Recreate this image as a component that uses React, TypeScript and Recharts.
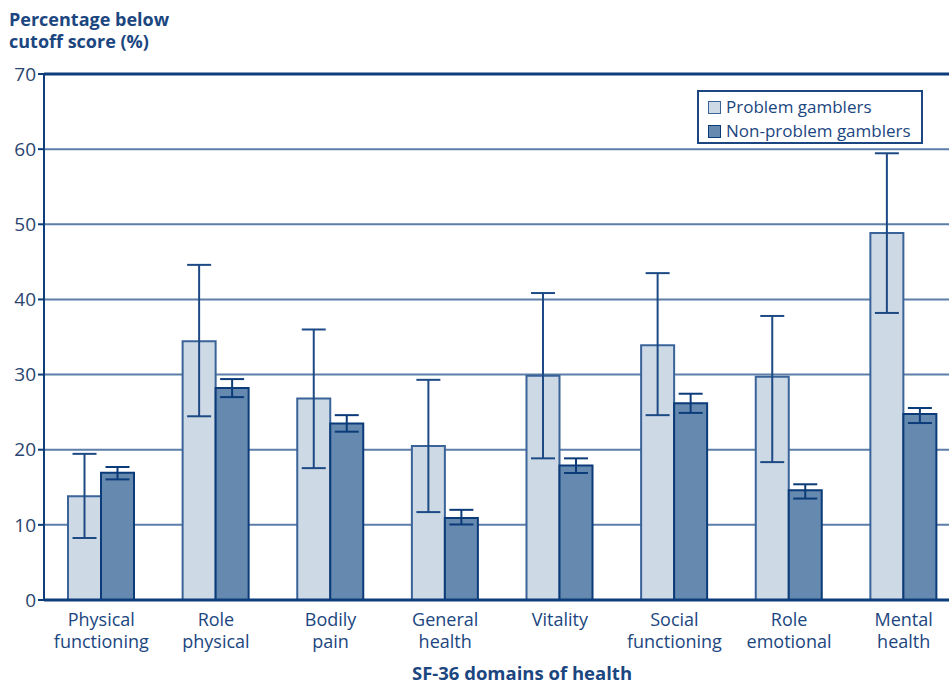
import React from 'react';
import {
  BarChart,
  Bar,
  XAxis,
  YAxis,
  CartesianGrid,
  ErrorBar,
  ReferenceLine,
} from 'recharts';

// SF-36 domains and their two-line tick labels
const domains = [
  'Physical functioning',
  'Role physical',
  'Bodily pain',
  'General health',
  'Vitality',
  'Social functioning',
  'Role emotional',
  'Mental health',
];
const domainLines = [
  ['Physical', 'functioning'],
  ['Role', 'physical'],
  ['Bodily', 'pain'],
  ['General', 'health'],
  ['Vitality'],
  ['Social', 'functioning'],
  ['Role', 'emotional'],
  ['Mental', 'health'],
];

// Percentage below cutoff score, with confidence interval bounds
const problemPct = [13.8, 34.45, 26.8, 20.5, 29.85, 33.9, 29.7, 48.85];
const problemLow = [8.25, 24.45, 17.55, 11.7, 18.85, 24.6, 18.35, 38.2];
const problemHigh = [19.45, 44.6, 36.0, 29.3, 40.85, 43.5, 37.8, 59.45];

const nonProblemPct = [16.95, 28.2, 23.5, 10.9, 17.9, 26.2, 14.6, 24.75];
const nonProblemLow = [16.05, 27.0, 22.4, 10.05, 16.9, 24.9, 13.5, 23.55];
const nonProblemHigh = [17.7, 29.4, 24.6, 12.0, 18.85, 27.45, 15.4, 25.55];

const yTicks = [0, 10, 20, 30, 40, 50, 60, 70];

const legendItems = ['Problem gamblers', 'Non-problem gamblers'];
const yTitleLines = ['Percentage below', 'cutoff score (%)'];

const data = domains.map((d, i) => ({
  domain: d,
  problem: problemPct[i],
  problemErr: [problemPct[i] - problemLow[i], problemHigh[i] - problemPct[i]],
  nonProblem: nonProblemPct[i],
  nonProblemErr: [nonProblemPct[i] - nonProblemLow[i], nonProblemHigh[i] - nonProblemPct[i]],
}));

const FONT = '"Open Sans", "Noto Sans", sans-serif';
const NAVY = '#0d3d7a';
const TEXT = '#1b4680';
const GRID = '#5d7ea8';
const LIGHT_FILL = '#cdd9e5';
const LIGHT_STROKE = '#3a639a';
const DARK_FILL = '#6689b0';
const DARK_STROKE = '#0b3b78';

const DomainTick = (props: any) => {
  const { x, y, payload } = props;
  const idx = domains.indexOf(payload.value);
  const lines = domainLines[idx] || [payload.value];
  return (
    <g>
      {lines.map((ln, k) => (
        <text
          key={k}
          x={x}
          y={y + 18 + k * 22}
          textAnchor="middle"
          fill={TEXT}
          fontSize={18}
          fontFamily={FONT}
        >
          {ln}
        </text>
      ))}
    </g>
  );
};

const LegendBox = () => (
  <div
    style={{
      position: 'absolute',
      left: 697,
      top: 90,
      border: `2px solid ${TEXT}`,
      background: '#fff',
      width: 226,
      height: 54,
      boxSizing: 'border-box',
      padding: '3px 0 0 9px',
      fontFamily: FONT,
      fontSize: 17,
      color: TEXT,
      lineHeight: '24px',
    }}
  >
    {[
      { label: legendItems[0], fill: LIGHT_FILL, stroke: LIGHT_STROKE },
      { label: legendItems[1], fill: DARK_FILL, stroke: DARK_STROKE },
    ].map((it) => (
      <div key={it.label} style={{ display: 'flex', alignItems: 'center', whiteSpace: 'nowrap' }}>
        <span
          style={{
            display: 'inline-block',
            width: 11,
            height: 11,
            background: it.fill,
            border: `1.5px solid ${it.stroke}`,
            marginRight: 5,
          }}
        />
        {it.label}
      </div>
    ))}
  </div>
);

export default function App() {
  return (
    <div
      style={{
        position: 'absolute',
        left: 0,
        top: 0,
        width: 949,
        height: 684,
        overflow: 'hidden',
        background: '#fff',
      }}
    >
      {yTitleLines.map((ln, k) => (
        <div
          key={ln}
          style={{
            position: 'absolute',
            left: 9,
            top: 8 + k * 22,
            fontFamily: FONT,
            fontWeight: 700,
            fontSize: 18,
            lineHeight: '22px',
            color: TEXT,
            whiteSpace: 'nowrap',
          }}
        >
          {ln}
        </div>
      ))}
      <BarChart
        width={961}
        height={684}
        data={data}
        margin={{ top: 74, right: 0, bottom: 0, left: 0 }}
        barCategoryGap={24}
        barGap={0}
        style={{ position: 'absolute', left: 0, top: 0 }}
      >
        <CartesianGrid vertical={false} stroke={GRID} strokeWidth={2} />
        <XAxis
          dataKey="domain"
          tick={<DomainTick />}
          tickLine={false}
          axisLine={{ stroke: NAVY, strokeWidth: 3 }}
          interval={0}
          height={84}
        />
        <YAxis
          domain={[0, 70]}
          ticks={yTicks}
          width={44}
          tickSize={6}
          tickLine={{ stroke: NAVY, strokeWidth: 2 }}
          axisLine={{ stroke: NAVY, strokeWidth: 2 }}
          tick={{ fill: '#2a4470', fontSize: 19, fontFamily: FONT }}
          interval={0}
        />
        <ReferenceLine y={70} stroke={NAVY} strokeWidth={3} />
        <Bar
          dataKey="problem"
          name={legendItems[0]}
          fill={LIGHT_FILL}
          stroke={LIGHT_STROKE}
          strokeWidth={2}
          barSize={33}
          isAnimationActive={false}
        >
          <ErrorBar dataKey="problemErr" width={12} stroke="#1d4a85" strokeWidth={2} direction="y" />
        </Bar>
        <Bar
          dataKey="nonProblem"
          name={legendItems[1]}
          fill={DARK_FILL}
          stroke={DARK_STROKE}
          strokeWidth={2}
          barSize={33}
          isAnimationActive={false}
        >
          <ErrorBar dataKey="nonProblemErr" width={12} stroke="#0b3b78" strokeWidth={2} direction="y" />
        </Bar>
      </BarChart>
      <LegendBox />
      <div
        style={{
          position: 'absolute',
          left: 0,
          width: 1044,
          top: 660,
          textAlign: 'center',
          fontFamily: FONT,
          fontWeight: 700,
          fontSize: 18.5,
          color: TEXT,
        }}
      >
        SF-36 domains of health
      </div>
    </div>
  );
}
